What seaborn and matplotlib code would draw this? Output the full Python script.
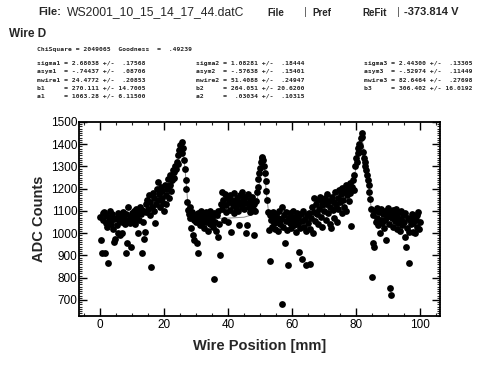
import numpy as np
import pandas as pd
import matplotlib
matplotlib.use("Agg")
import matplotlib.pyplot as plt
from matplotlib.ticker import MultipleLocator
import seaborn as sns

# ---------------- data ----------------
wire_pos = [
    0, .25, .5, .75, 1, 1.25, 1.5, 1.75, 2, 2.25, 2.5, 2.75, 3, 3.25, 3.5, 3.75, 4, 4.25, 4.5, 4.75,
    5, 5.25, 5.5, 5.75, 6, 6.25, 6.5, 6.75, 7, 7.25, 7.5, 7.75, 8, 8.25, 8.5, 8.75, 9, 9.25, 9.5, 9.75,
    10, 10.25, 10.5, 10.75, 11, 11.25, 11.5, 11.75, 12, 12.25, 12.5, 12.75, 13, 13.25, 13.5, 13.75, 14, 14.25, 14.5, 14.75,
    15, 15.25, 15.5, 15.75, 16, 16.25, 16.5, 16.75, 17, 17.25, 17.5, 17.75, 18, 18.25, 18.5, 18.75, 19, 19.25, 19.5, 19.75,
    20, 20.25, 20.5, 20.75, 21, 21.25, 21.5, 21.75, 22, 22.25, 22.5, 22.75, 23, 23.25, 23.5, 23.75, 24, 24.25, 24.5, 24.75,
    25, 25.25, 25.5, 25.75, 26, 26.25, 26.5, 26.75, 27, 27.25, 27.5, 27.75, 28, 28.25, 28.5, 28.75, 29, 29.25, 29.5, 29.75,
    30, 30.25, 30.5, 30.75, 31, 31.25, 31.5, 31.75, 32, 32.25, 32.5, 32.75, 33, 33.25, 33.5, 33.75, 34, 34.25, 34.5, 34.75,
    35, 35.25, 35.5, 35.75, 36, 36.25, 36.5, 36.75, 37, 37.25, 37.5, 37.75, 38, 38.25, 38.5, 38.75, 39, 39.25, 39.5, 39.75,
    40, 40.25, 40.5, 40.75, 41, 41.25, 41.5, 41.75, 42, 42.25, 42.5, 42.75, 43, 43.25, 43.5, 43.75, 44, 44.25, 44.5, 44.75,
    45, 45.25, 45.5, 45.75, 46, 46.25, 46.5, 46.75, 47, 47.25, 47.5, 47.75, 48, 48.25, 48.5, 48.75, 49, 49.25, 49.5, 49.75,
    50, 50.25, 50.5, 50.75, 51, 51.25, 51.5, 51.75, 52, 52.25, 52.5, 52.75, 53, 53.25, 53.5, 53.75, 54, 54.25, 54.5, 54.75,
    55, 55.25, 55.5, 55.75, 56, 56.25, 56.5, 56.75, 57, 57.25, 57.5, 57.75, 58, 58.25, 58.5, 58.75, 59, 59.25, 59.5, 59.75,
    60, 60.25, 60.5, 60.75, 61, 61.25, 61.5, 61.75, 62, 62.25, 62.5, 62.75, 63, 63.25, 63.5, 63.75, 64, 64.25, 64.5, 64.75,
    65, 65.25, 65.5, 65.75, 66, 66.25, 66.5, 66.75, 67, 67.25, 67.5, 67.75, 68, 68.25, 68.5, 68.75, 69, 69.25, 69.5, 69.75,
    70, 70.25, 70.5, 70.75, 71, 71.25, 71.5, 71.75, 72, 72.25, 72.5, 72.75, 73, 73.25, 73.5, 73.75, 74, 74.25, 74.5, 74.75,
    75, 75.25, 75.5, 75.75, 76, 76.25, 76.5, 76.75, 77, 77.25, 77.5, 77.75, 78, 78.25, 78.5, 78.75, 79, 79.25, 79.5, 79.75,
    80, 80.25, 80.5, 80.75, 81, 81.25, 81.5, 81.75, 82, 82.25, 82.5, 82.75, 83, 83.25, 83.5, 83.75, 84, 84.25, 84.5, 84.75,
    85, 85.25, 85.5, 85.75, 86, 86.25, 86.5, 86.75, 87, 87.25, 87.5, 87.75, 88, 88.25, 88.5, 88.75, 89, 89.25, 89.5, 89.75,
    90, 90.25, 90.5, 90.75, 91, 91.25, 91.5, 91.75, 92, 92.25, 92.5, 92.75, 93, 93.25, 93.5, 93.75, 94, 94.25, 94.5, 94.75,
    95, 95.25, 95.5, 95.75, 96, 96.25, 96.5, 96.75, 97, 97.25, 97.5, 97.75, 98, 98.25, 98.5, 98.75, 99, 99.25, 99.5, 99.75,
    100,
]

adc_counts = [
    1075, 969, 912, 1090, 1060, 1095, 912, 1045, 1080, 1030, 864, 1070, 1100, 1055, 1040, 1085, 1020, 961, 1065, 976,
    1070, 1035, 1090, 999, 1060, 991, 1080, 1003, 1050, 1095, 1065, 1040, 1085, 910, 954, 1120, 1060, 1075, 1045, 939,
    1090, 1055, 1100, 1070, 1040, 1110, 1080, 1095, 999, 1060, 1120, 1085, 1105, 910, 1050, 976, 1006, 1130, 1095, 1150,
    1110, 1170, 1080, 1140, 849, 1120, 1180, 1100, 1160, 1044, 1130, 1200, 1150, 1230, 1175, 1120, 1210, 1160, 1190, 1135,
    1100, 1215, 1170, 1130, 1200, 1245, 1160, 1215, 1260, 1190, 1240, 1285, 1250, 1275, 1300, 1290, 1320, 1350, 1310, 1375,
    1395, 1380, 1410, 1360, 1385, 1330, 1290, 1240, 1200, 1140, 1105, 1085, 1120, 1070, 1022, 1095, 991, 1060, 969, 1080,
    1050, 954, 1090, 910, 1070, 1035, 1100, 1060, 1045, 1085, 1025, 1075, 1095, 1050, 1065, 1010, 1080, 1040, 1100, 1055,
    1070, 1030, 796, 1090, 1050, 1010, 1080, 984, 1100, 1040, 904, 1130, 1185, 1110, 1150, 1060, 1175, 1125, 1095, 1160,
    1051, 1140, 1170, 1105, 1006, 1150, 1125, 1180, 1090, 1145, 1115, 1160, 1130, 1100, 1036, 1170, 1140, 1120, 1185, 1150,
    1110, 1165, 1000, 1135, 1036, 1175, 1120, 1150, 1095, 1140, 1165, 1110, 1130, 991, 1100, 1145, 1186, 1210, 1246, 1270,
    1291, 1320, 1344, 1340, 1330, 1300, 1270, 1235, 1190, 1150, 1096, 1014, 1080, 874, 1060, 1030, 1095, 1045, 1075, 1020,
    1085, 1050, 1010, 1070, 1100, 1040, 1065, 684, 1120, 1030, 1080, 954, 1055, 1095, 1015, 856, 1070, 1045, 1090, 1025,
    1060, 1100, 1035, 1075, 1050, 1005, 1090, 1040, 1070, 917, 1025, 1085, 882, 1055, 1100, 1030, 1065, 1010, 856, 1080,
    1045, 1090, 860, 1020, 1070, 1120, 1000, 1160, 1095, 1055, 1130, 1085, 1150, 1040, 1110, 1165, 1075, 1125, 1030, 1140,
    1100, 1160, 1060, 1130, 1175, 1090, 1145, 1040, 1120, 1022, 1165, 1105, 1140, 1070, 1185, 1125, 1051, 1160, 1110, 1195,
    1140, 1175, 1090, 1205, 1150, 1120, 1185, 1215, 1100, 1170, 1200, 1145, 1225, 1180, 1034, 1210, 1240, 1195, 1261, 1300,
    1336, 1320, 1360, 1381, 1400, 1390, 1430, 1449, 1434, 1366, 1340, 1321, 1300, 1284, 1260, 1239, 1215, 1185, 1156, 1111,
    805, 954, 1080, 939, 1100, 1050, 1115, 1070, 1035, 1095, 999, 1060, 1110, 1045, 1085, 1025, 1100, 1060, 969, 1075,
    1115, 1040, 1090, 752, 722, 1070, 1105, 1030, 1085, 1055, 1110, 1020, 1075, 1045, 1095, 1010, 1065, 1100, 1035, 1080,
    1050, 984, 1090, 939, 1025, 1070, 868, 1005, 1060, 1040, 1085, 1006, 1045, 1075, 1000, 1060, 1030, 1080, 1094, 1020,
    1050,
]

fit_pos = [0, 5, 10, 15, 18, 20, 22, 23.5, 24.5, 25.3, 26, 26.8, 27.5, 28.5, 30, 35, 40, 45, 48,
           49.5, 50.5, 51.2, 52, 52.8, 55, 60, 65, 70, 75, 78, 79.5, 80.5, 81.5, 82.3, 83.3,
           84.3, 85, 87, 95, 100]
fit_counts = [1066, 1070, 1080, 1100, 1125, 1150, 1195, 1250, 1320, 1395, 1370, 1250, 1120, 1080,
              1068, 1066, 1068, 1072, 1085, 1180, 1330, 1320, 1180, 1080, 1066, 1068, 1075, 1095,
              1130, 1175, 1250, 1340, 1430, 1400, 1290, 1170, 1090, 1068, 1065, 1065]

x_ticks = [0, 20, 40, 60, 80, 100]
y_ticks = [700, 800, 900, 1000, 1100, 1200, 1300, 1400, 1500]

file_name = "WS2001_10_15_14_17_44.datC"
voltage = "-373.814 V"
wire_name = "Wire D"
fit_header = "ChiSquare = 2049065  Goodness  =  .49239"
fit_col1 = ["sigma1 = 2.68038 +/-  .17568",
            "asym1  = -.74437 +/-  .08706",
            "mwire1 = 24.4772 +/-  .20853",
            "b1     = 270.111 +/- 14.7005",
            "a1     = 1063.28 +/- 6.11500"]
fit_col2 = ["sigma2 = 1.08281 +/-  .18444",
            "asym2  = -.57638 +/-  .15401",
            "mwire2 = 51.4088 +/-  .24947",
            "b2     = 264.051 +/- 20.6200",
            "a2     =  .03034 +/-  .10315"]
fit_col3 = ["sigma3 = 2.44300 +/-  .13305",
            "asym3  = -.52974 +/-  .11449",
            "mwire3 = 82.6464 +/-  .27698",
            "b3     = 306.402 +/- 16.0192"]

# ---------------- figure ----------------
sns.set_style("ticks")
plt.rcParams["font.family"] = ["Liberation Sans", "DejaVu Sans"]

W, H = 493, 371
fig = plt.figure(figsize=(W / 100, H / 100), dpi=100)
fig.patch.set_facecolor("white")


def px(x, y):
    return x / W, 1 - y / H


ax = fig.add_axes([79 / W, 1 - 316 / H, (440 - 79) / W, (316 - 122) / H])

df = pd.DataFrame({"pos": wire_pos, "adc": adc_counts})
fit_df = pd.DataFrame({"pos": fit_pos, "adc": fit_counts})

sns.lineplot(data=fit_df, x="pos", y="adc", ax=ax, color="#8a8a8a", lw=0.7,
             legend=False, zorder=1, sort=False)
sns.scatterplot(data=df, x="pos", y="adc", ax=ax, color="black", s=24,
                edgecolor="black", linewidth=0, legend=False, zorder=2)

ax.set_xlim(-6.6, 106.3)
ax.set_ylim(628, 1500)
ax.set_xticks(x_ticks)
ax.set_yticks(y_ticks)
ax.xaxis.set_minor_locator(MultipleLocator(5))
ax.yaxis.set_minor_locator(MultipleLocator(10))
ax.tick_params(axis="both", which="major", direction="in", length=6, width=1.0,
               top=True, right=True, labelsize=8.5, pad=2, colors="black")
ax.tick_params(axis="y", which="major", pad=1)
ax.tick_params(axis="both", which="minor", direction="in", length=2.5, width=0.8,
               top=True, right=True)
for sp in ax.spines.values():
    sp.set_visible(True)
    sp.set_linewidth(1.3)
    sp.set_color("black")

ax.set_xlabel("Wire Position [mm]", fontsize=10.5, fontweight="bold", labelpad=6)
ax.set_ylabel("ADC Counts", fontsize=10.5, fontweight="bold", labelpad=4)

# ---------------- header texts ----------------
fig.text(*px(38, 12), "File:", fontsize=8, fontweight="bold", va="center", ha="left")
fig.text(*px(67, 12), file_name, fontsize=8.7, va="center", ha="left")
fig.text(*px(267, 13), "File", fontsize=7, fontweight="bold", va="center", ha="left")
fig.text(*px(305, 12), "|", fontsize=8, va="center", ha="center", color="#555555")
fig.text(*px(312, 13), "Pref", fontsize=7, fontweight="bold", va="center", ha="left")
fig.text(*px(362, 13), "ReFit", fontsize=7, fontweight="bold", va="center", ha="left")
fig.text(*px(398, 12), "|", fontsize=8, va="center", ha="center", color="#555555")
fig.text(*px(404, 12), voltage, fontsize=8, fontweight="bold", va="center", ha="left")
fig.text(*px(9, 34), wire_name, fontsize=8.5, fontweight="bold", va="center", ha="left")

mono = dict(family="DejaVu Sans Mono", fontsize=4.6, fontweight="bold", va="center", ha="left")
fig.text(*px(37, 49), fit_header, **mono)
row_y = [64, 72, 80, 88, 96]
for col_x, col in ((37, fit_col1), (196, fit_col2), (364, fit_col3)):
    for yy, line in zip(row_y, col):
        fig.text(*px(col_x, yy), line, **mono)

fig.savefig("out.png", dpi=100, facecolor="white")
